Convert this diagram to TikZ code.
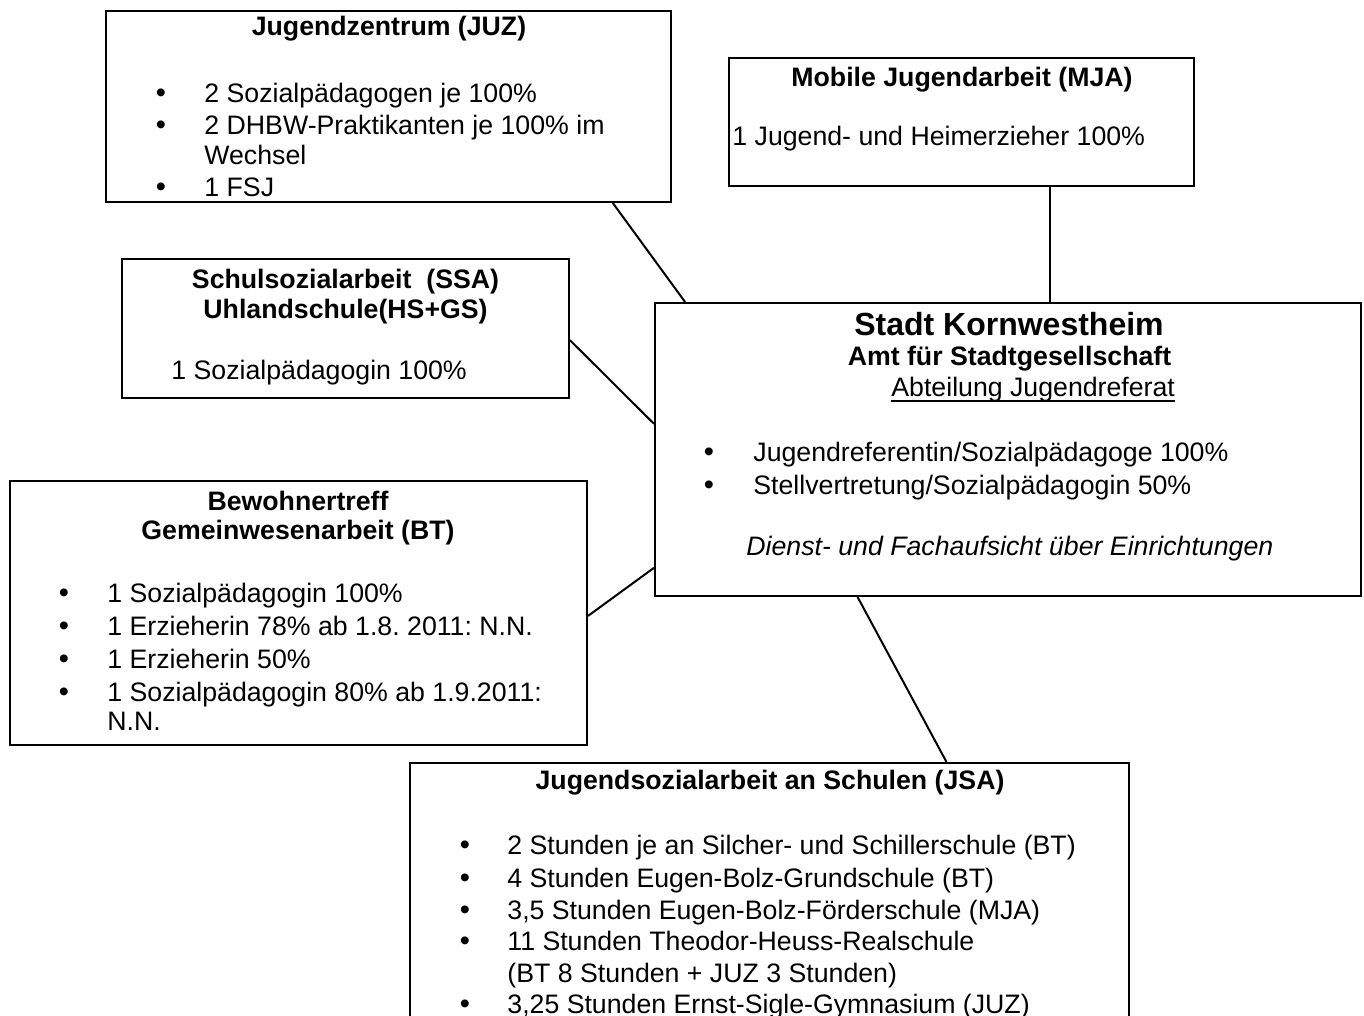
\documentclass[tikz,border=0pt]{standalone}
\usepackage{fontspec}
\setmainfont{Liberation Sans}
\usetikzlibrary{fit,calc}
\frenchspacing
\begin{document}
\begin{tikzpicture}[x=0.5pt,y=-0.5pt,
  box/.style={draw, line width=1pt, inner sep=0pt},
  txt/.style={inner sep=0pt, anchor=base west, font=\fontsize{13.35}{15.25}\selectfont},
  ttl/.style={inner sep=0pt, anchor=base, font=\fontsize{13.35}{15.25}\selectfont\bfseries},
  bigttl/.style={inner sep=0pt, anchor=base, font=\fontsize{16}{18}\selectfont\bfseries},
  bul/.style={inner sep=0pt, anchor=base, font=\fontsize{14.5}{15.25}\selectfont},
  link/.style={line width=1pt}]
\fill[white] (0,0) rectangle (1364,1016);
\clip (0,0) rectangle (1364,1016);

% boxes
\node[box, fit={(106,11)(671,202)}] (juz) {};
\node[box, fit={(729,58)(1194,186)}] (mja) {};
\node[box, fit={(122,259)(569,398)}] (ssa) {};
\node[box, fit={(655,303)(1361,596)}] (stadt) {};
\node[box, fit={(10,481)(587,745)}] (bt) {};
\node[box, fit={(410,763)(1129,1040)}] (jsa) {};

% JUZ
\node[ttl] (juzT) at (389,36) {Jugendzentrum (JUZ)};
\node[bul] (juzB1) at (161,103) {•};
\node[txt] (juz1) at (204,103) {2 Sozialpädagogen je 100\%};
\node[bul] (juzB2) at (161,135) {•};
\node[txt] (juz2) at (204,135) {2 DHBW-Praktikanten je 100\% im};
\node[txt] (juz3) at (204,165) {Wechsel};
\node[bul] (juzB3) at (161,197) {•};
\node[txt] (juz4) at (204,197) {1 FSJ};

% MJA
\node[ttl] (mjaT) at (962,87) {Mobile Jugendarbeit (MJA)};
\node[txt] (mja1) at (732,146) {1 Jugend- und Heimerzieher 100\%};

% SSA
\node[ttl] (ssaT1) at (345.5,288) {Schulsozialarbeit\ \ (SSA)};
\node[ttl] (ssaT2) at (345.5,318) {Uhlandschule(HS+GS)};
\node[txt] (ssa1) at (171,379) {1 Sozialpädagogin 100\%};

% Stadt
\node[bigttl] (stT1) at (1009,335) {Stadt Kornwestheim};
\node[ttl] (stT2) at (1009.5,365) {Amt für Stadtgesellschaft};
\node[txt] (stT3) at (891,396) {Abteilung Jugendreferat};
\draw[line width=0.9pt] ([yshift=-2.6pt]stT3.base west) -- ([yshift=-2.6pt]stT3.base east);
\node[bul] (stB1) at (709,461) {•};
\node[txt] (st1) at (753,461) {Jugendreferentin/Sozialpädagoge 100\%};
\node[bul] (stB2) at (709,494) {•};
\node[txt] (st2) at (753,494) {Stellvertretung/Sozialpädagogin 50\%};
\node[txt, font=\fontsize{13.35}{15.25}\selectfont\itshape] (st3) at (746,555) {Dienst- und Fachaufsicht über Einrichtungen};

% BT
\node[ttl] (btT1) at (298,510) {Bewohnertreff};
\node[ttl] (btT2) at (298,539) {Gemeinwesenarbeit (BT)};
\node[bul] (btB1) at (64,602) {•};
\node[txt] (bt1) at (107,602) {1 Sozialpädagogin 100\%};
\node[bul] (btB2) at (64,635) {•};
\node[txt] (bt2) at (107,635) {1 Erzieherin 78\% ab 1.8. 2011: N.N.};
\node[bul] (btB3) at (64,668) {•};
\node[txt] (bt3) at (107,668) {1 Erzieherin 50\%};
\node[bul] (btB4) at (64,701) {•};
\node[txt] (bt4) at (107,701) {1 Sozialpädagogin 80\% ab 1.9.2011:};
\node[txt] (bt5) at (107,730) {N.N.};

% JSA
\node[ttl] (jsaT) at (770,789) {Jugendsozialarbeit an Schulen (JSA)};
\node[bul] (jsaB1) at (465,854) {•};
\node[txt] (jsa1) at (507,854) {2 Stunden je an Silcher- und Schillerschule (BT)};
\node[bul] (jsaB2) at (465,887) {•};
\node[txt] (jsa2) at (507,887) {4 Stunden Eugen-Bolz-Grundschule (BT)};
\node[bul] (jsaB3) at (465,919) {•};
\node[txt] (jsa3) at (507,919) {3,5 Stunden Eugen-Bolz-Förderschule (MJA)};
\node[bul] (jsaB4) at (465,950) {•};
\node[txt] (jsa4) at (507,950) {11 Stunden Theodor-Heuss-Realschule};
\node[txt] (jsa5) at (507,982) {(BT 8 Stunden + JUZ 3 Stunden)};
\node[bul] (jsaB5) at (465,1013) {•};
\node[txt] (jsa6) at (507,1013) {3,25 Stunden Ernst-Sigle-Gymnasium (JUZ)};

% connectors
\draw[link] ($(juz.south west)!0.8956!(juz.south east)$) -- ($(stadt.north west)!0.0439!(stadt.north east)$);
\draw[link] ($(mja.south west)!0.6903!(mja.south east)$) coordinate (m1) -- (m1 |- stadt.north);
\draw[link] ($(ssa.north east)!0.583!(ssa.south east)$) -- ($(stadt.north west)!0.413!(stadt.south west)$);
\draw[link] ($(bt.north east)!0.511!(bt.south east)$) -- ($(stadt.north west)!0.901!(stadt.south west)$);
\draw[link] ($(stadt.south west)!0.2875!(stadt.south east)$) -- ($(jsa.north west)!0.7455!(jsa.north east)$);
\end{tikzpicture}
\end{document}
